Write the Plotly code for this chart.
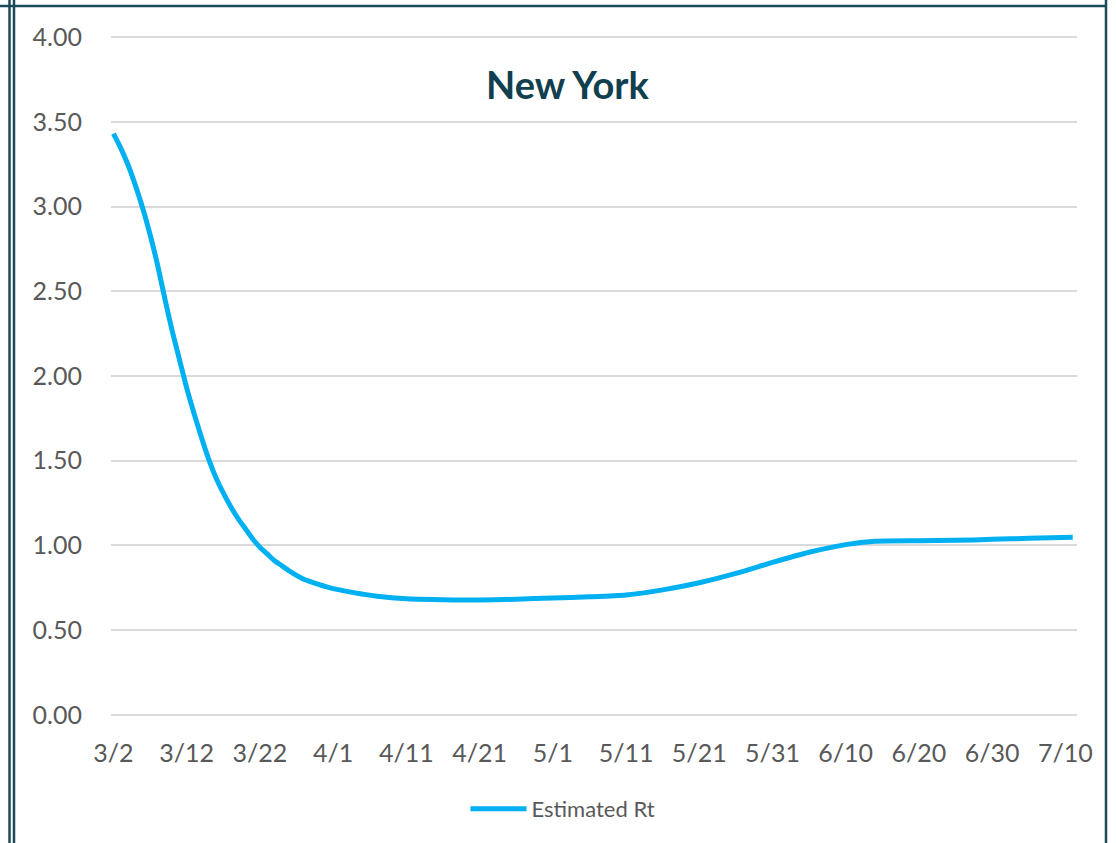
import plotly.graph_objects as go

# ---- data ----
dates = [
    "2020-03-02", "2020-03-03", "2020-03-04", "2020-03-05", "2020-03-06",
    "2020-03-07", "2020-03-08", "2020-03-09", "2020-03-10", "2020-03-11",
    "2020-03-12", "2020-03-13", "2020-03-14", "2020-03-15", "2020-03-16",
    "2020-03-17", "2020-03-18", "2020-03-19", "2020-03-20", "2020-03-21",
    "2020-03-22", "2020-03-23", "2020-03-24", "2020-03-25", "2020-03-26",
    "2020-03-28", "2020-03-30", "2020-04-01", "2020-04-04", "2020-04-07",
    "2020-04-11", "2020-04-16", "2020-04-21", "2020-04-26", "2020-05-01",
    "2020-05-06", "2020-05-11", "2020-05-16", "2020-05-21", "2020-05-26",
    "2020-05-31", "2020-06-05", "2020-06-10", "2020-06-14", "2020-06-20",
    "2020-06-25", "2020-06-30", "2020-07-05", "2020-07-11",
]
rt_values = [
    3.43, 3.345, 3.245, 3.125, 2.99,
    2.835, 2.66, 2.46, 2.27, 2.10,
    1.93, 1.78, 1.64, 1.51, 1.40,
    1.31, 1.23, 1.16, 1.10, 1.04,
    0.99, 0.95, 0.91, 0.88, 0.85,
    0.80, 0.77, 0.745, 0.72, 0.70,
    0.685, 0.68, 0.678, 0.683, 0.69,
    0.697, 0.708, 0.738, 0.78, 0.835,
    0.90, 0.96, 1.005, 1.025, 1.028,
    1.03, 1.036, 1.042, 1.048,
]
series_name = "Estimated Rt"
chart_title = "New York"
y_ticks = [0, 0.5, 1.0, 1.5, 2.0, 2.5, 3.0, 3.5, 4.0]

# ---- layout geometry (pixels) ----
W, H = 1116, 843
PL, PR = 111, 1077
Y0_PX, Y4_PX = 715, 37          # pixel rows of 0.00 and 4.00
Y_PAD = 0.03                     # small pad so edge gridlines are drawn
PX_PER_UNIT = (Y0_PX - Y4_PX) / 4.0
PB = Y0_PX + Y_PAD * PX_PER_UNIT
PT = Y4_PX - Y_PAD * PX_PER_UNIT


def px_x(px):
    return (px - PL) / (PR - PL)


def px_y(py):
    return (PB - py) / (PB - PT)


fig = go.Figure()
fig.add_trace(go.Scatter(
    x=dates, y=rt_values, mode="lines", name=series_name,
    line=dict(color="#00B0F0", width=5, shape="spline", smoothing=0.6),
    showlegend=True,
))

frame_color = "#1B4A5A"
shapes = []
for lx in (9.5, 14):
    shapes.append(dict(type="line", xref="paper", yref="paper",
                       x0=px_x(lx), x1=px_x(lx), y0=px_y(0), y1=px_y(843),
                       line=dict(color=frame_color, width=2.5)))
shapes.append(dict(type="line", xref="paper", yref="paper",
                   x0=px_x(1106), x1=px_x(1106), y0=px_y(0), y1=px_y(843),
                   line=dict(color=frame_color, width=2.5)))
shapes.append(dict(type="line", xref="paper", yref="paper",
                   x0=px_x(0), x1=px_x(1107), y0=px_y(6), y1=px_y(6),
                   line=dict(color=frame_color, width=2.5)))

fig.update_layout(
    width=W, height=H,
    margin=dict(l=PL, r=W - PR, t=PT, b=H - PB, pad=0),
    paper_bgcolor="white", plot_bgcolor="white",
    font=dict(family="Lato, 'Open Sans', sans-serif", color="#595959"),
    shapes=shapes,
    annotations=[dict(
        text="<b>" + chart_title + "</b>", xref="paper", yref="paper",
        x=px_x(567), y=px_y(84), xanchor="center", yanchor="middle",
        showarrow=False, font=dict(size=38, color="#123F4F",
                                   family="Lato, 'Open Sans', sans-serif"),
    )],
    legend=dict(
        orientation="h", x=px_x(563), y=px_y(809), xanchor="center",
        yanchor="middle", font=dict(size=22, color="#595959"),
        itemwidth=56, bgcolor="rgba(0,0,0,0)",
    ),
    xaxis=dict(
        type="date",
        range=["2020-03-01 16:00", "2020-07-11 14:00"],
        tick0="2020-03-02", dtick=10 * 86400000, tickformat="%-m/%-d",
        showgrid=False, zeroline=False, showline=False,
        ticks="outside", ticklen=11, tickcolor="rgba(0,0,0,0)",
        tickfont=dict(size=25, color="#595959"),
    ),
    yaxis=dict(
        range=[-Y_PAD, 4 + Y_PAD], tickvals=y_ticks, tickformat=".2f",
        showgrid=True, gridcolor="#D9D9D9", gridwidth=1.5,
        zeroline=False, showline=False,
        ticks="outside", ticklen=23, tickcolor="rgba(0,0,0,0)",
        tickfont=dict(size=25, color="#595959"),
    ),
)

fig.write_html(
    "out.html",
    config={"displayModeBar": False},
    post_script="document.body.style.margin='0';document.body.style.padding='0';",
)
